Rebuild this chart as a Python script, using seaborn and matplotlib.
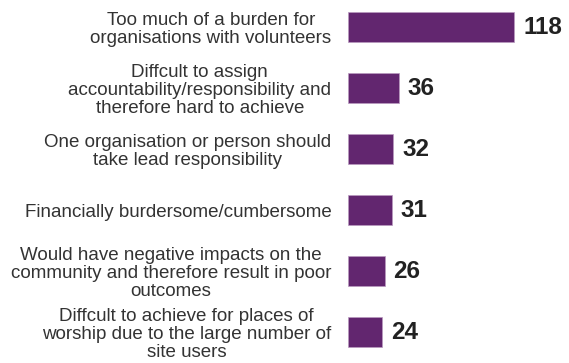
import matplotlib
matplotlib.use("Agg")
import matplotlib.pyplot as plt
import seaborn as sns
import pandas as pd

categories = [
    "Too much of a burden for\norganisations with volunteers",
    "Diffcult to assign\naccountability/responsibility and\ntherefore hard to achieve",
    "One organisation or person should\ntake lead responsibility",
    "Financially burdersome/cumbersome",
    "Would have negative impacts on the\ncommunity and therefore result in poor\noutcomes",
    "Diffcult to achieve for places of\nworship due to the large number of\nsite users",
]
counts = [118, 36, 32, 31, 26, 24]

bar_color = "#62266f"
label_color = "#333333"
value_color = "#222222"

sns.set_theme(style="white")
plt.rcParams["font.family"] = ["Liberation Sans", "DejaVu Sans"]

df = pd.DataFrame({"reason": categories, "count": counts})

fig = plt.figure(figsize=(5.69, 3.63), dpi=100)
ax = fig.add_axes([348 / 569, 0.0, 211 / 569, 1.0])

sns.barplot(data=df, x="count", y="reason", orient="h", color=bar_color,
            saturation=1, width=0.49, edgecolor="#b99ac0", linewidth=0.5, ax=ax)

ax.set_xlim(0, 150)
ax.set_ylim(5.508, -0.443)

for patch, val in zip(ax.patches, counts):
    ax.annotate(f"{val}", xy=(patch.get_width(), patch.get_y() + patch.get_height() / 2),
                xytext=(6.5, 0), textcoords="offset points", ha="left", va="center",
                fontsize=17.5, fontweight="bold", color=value_color)

ax.set_xlabel("")
ax.set_ylabel("")
ax.set_xticks([])
ax.tick_params(axis="y", length=0, pad=12)
for lbl in ax.get_yticklabels():
    lbl.set_fontsize(13.5)
    lbl.set_color(label_color)
    lbl.set_multialignment("center")
    lbl.set_linespacing(1.1)

sns.despine(ax=ax, left=True, bottom=True)

fig.savefig("out.png", dpi=100)
